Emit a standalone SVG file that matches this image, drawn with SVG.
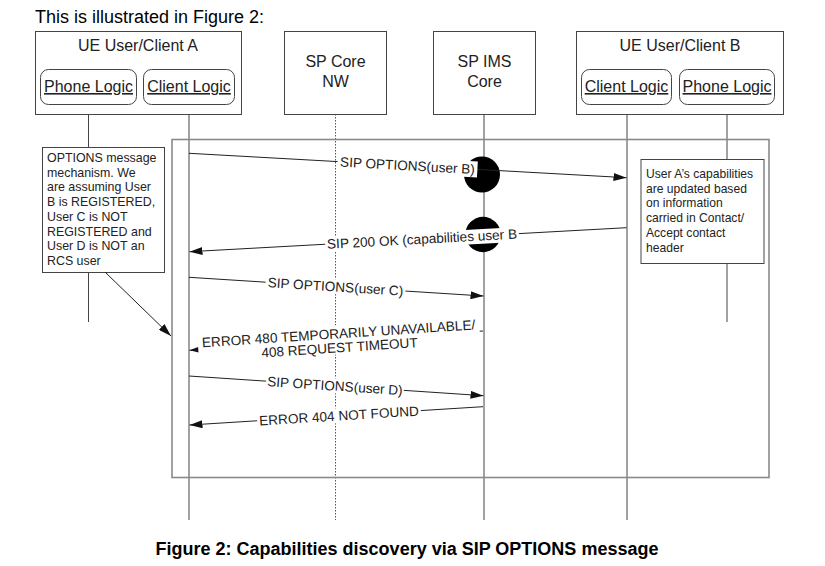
<svg xmlns="http://www.w3.org/2000/svg" width="825" height="566" viewBox="0 0 825 566">
<style>
  text { font-family: "Liberation Sans", Arial, sans-serif; fill: #222; }
  .box { fill: #fff; stroke: #444; stroke-width: 1; }
  .rbox { fill: #fff; stroke: #444; stroke-width: 1; }
  .hdr { font-size: 16px; text-anchor: middle; }
  .ul { font-size: 16px; text-anchor: middle; text-decoration: underline; }
  .life { stroke: #444; stroke-width: 1; fill: none; }
  .dot { stroke: #555; stroke-width: 1; stroke-dasharray: 1.5 1.5; fill: none; }
  .msg { stroke: #222; stroke-width: 1; fill: none; marker-end: url(#ah); }
  .lbl { font-size: 13.6px; text-anchor: middle; }
  .bg { fill: #fff; stroke: none; }
  .note { font-size: 12.4px; }
  .frame { fill: none; stroke: #8a8a8a; stroke-width: 1.6; }
</style>
<defs>
  <marker id="ah" markerUnits="userSpaceOnUse" markerWidth="13" markerHeight="8" refX="13" refY="4" orient="auto">
    <path d="M0,0 L13,4 L0,8 z" fill="#111"/>
  </marker>
</defs>
<rect width="825" height="566" fill="#fff"/>
<text x="35" y="23" style="font-size:18px;fill:#000">This is illustrated in Figure 2:</text>

<g id="lifelines">
  <path class="life" d="M88.5,104 V147 M88.5,272 V322"/>
  <path class="life" d="M189,104 V520"/>
  <path class="dot" d="M335.5,114 V520"/>
  <path class="life" d="M484,114 V520"/>
  <path class="life" d="M627,104 V520"/>
  <path class="life" d="M727,104 V159 M727,264 V322"/>
</g>

<g id="frame">
  <rect class="frame" x="172" y="139.5" width="597" height="338"/>
</g>

<g id="ueA">
  <rect class="box" x="35.5" y="31.5" width="206" height="83"/>
  <text class="hdr" x="138" y="51">UE User/Client A</text>
  <g id="phoneLogicA">
    <rect class="rbox" x="40.5" y="69.5" width="96" height="35" rx="8"/>
    <text class="ul" x="88.5" y="92">Phone Logic</text>
  </g>
  <g id="clientLogicA">
    <rect class="rbox" x="143.5" y="69.5" width="91" height="35" rx="8"/>
    <text class="ul" x="189" y="92">Client Logic</text>
  </g>
</g>

<g id="spCore">
  <rect class="box" x="284.5" y="31.5" width="102" height="83"/>
  <text class="hdr" x="335.5" y="67">SP Core</text>
  <text class="hdr" x="335.5" y="87">NW</text>
</g>

<g id="spIms">
  <rect class="box" x="433.5" y="31.5" width="102" height="83"/>
  <text class="hdr" x="484.5" y="67">SP IMS</text>
  <text class="hdr" x="484.5" y="87">Core</text>
</g>

<g id="ueB">
  <rect class="box" x="576.5" y="31.5" width="207" height="83"/>
  <text class="hdr" x="680" y="51">UE User/Client B</text>
  <g id="clientLogicB">
    <rect class="rbox" x="581.5" y="69.5" width="90" height="35" rx="8"/>
    <text class="ul" x="626.5" y="92">Client Logic</text>
  </g>
  <g id="phoneLogicB">
    <rect class="rbox" x="679.5" y="69.5" width="95" height="35" rx="8"/>
    <text class="ul" x="727" y="92">Phone Logic</text>
  </g>
</g>

<g id="noteA">
  <rect class="box" x="42.5" y="147.5" width="122" height="125"/>
  <text class="note" x="47" y="161.7">OPTIONS message</text>
  <text class="note" x="47" y="176.5">mechanism. We</text>
  <text class="note" x="47" y="191.2">are assuming User</text>
  <text class="note" x="47" y="206">B is REGISTERED,</text>
  <text class="note" x="47" y="220.8">User C is NOT</text>
  <text class="note" x="47" y="235.5">REGISTERED and</text>
  <text class="note" x="47" y="250.3">User D is NOT an</text>
  <text class="note" x="47" y="265">RCS user</text>
</g>

<g id="noteB">
  <rect class="box" x="641" y="159.5" width="123" height="104"/>
  <text class="note" x="646" y="177.7" style="font-size:12.1px">User A’s capabilities</text>
  <text class="note" x="646" y="192.5" style="font-size:12.1px">are updated based</text>
  <text class="note" x="646" y="207.3" style="font-size:12.1px">on information</text>
  <text class="note" x="646" y="222.1" style="font-size:12.1px">carried in Contact/</text>
  <text class="note" x="646" y="236.9" style="font-size:12.1px">Accept contact</text>
  <text class="note" x="646" y="251.7" style="font-size:12.1px">header</text>
</g>

<g id="drops">
  <circle cx="482" cy="174.5" r="18" fill="#000"/>
  <circle cx="483" cy="234.5" r="17.7" fill="#000"/>
</g>

<g id="connectors">
  <line class="msg" x1="105" y1="272" x2="171" y2="336"/>

  <line class="msg" x1="189" y1="153.3" x2="626.5" y2="177.7"/>
  <g transform="translate(407.5,165.5) rotate(3.2)">
    <rect class="bg" x="-70" y="-8" width="140" height="16"/>
    <text class="lbl" x="0" y="4.8">SIP OPTIONS(user B)</text>
  </g>

  <line class="msg" x1="626.5" y1="227.7" x2="189.5" y2="251.7"/>
  <g transform="translate(422,238.9) rotate(-3.1)">
    <rect class="bg" x="-97" y="-6.5" width="194" height="14.5"/>
    <text class="lbl" x="0" y="4.8">SIP 200 OK (capabilities user B</text>
  </g>

  <line class="msg" x1="189" y1="277.3" x2="483.5" y2="296"/>
  <g transform="translate(335.5,286.6) rotate(3.64)">
    <rect class="bg" x="-70" y="-7.5" width="140" height="15"/>
    <text class="lbl" x="0" y="4.8">SIP OPTIONS(user C)</text>
  </g>

  <line class="msg" x1="483" y1="331" x2="189.5" y2="350.3"/>
  <g transform="translate(339,340.3) rotate(-3.76)">
    <rect class="bg" x="-141" y="-15" width="282" height="29"/>
    <text class="lbl" x="0" y="-2">ERROR 480 TEMPORARILY UNAVAILABLE/</text>
    <text class="lbl" x="0" y="12">408 REQUEST TIMEOUT</text>
  </g>

  <line class="msg" x1="189" y1="376" x2="483.5" y2="395.7"/>
  <g transform="translate(335,385.8) rotate(3.83)">
    <rect class="bg" x="-69" y="-7.5" width="138" height="15"/>
    <text class="lbl" x="0" y="4.8">SIP OPTIONS(user D)</text>
  </g>

  <line class="msg" x1="483" y1="406.7" x2="189.5" y2="425"/>
  <g transform="translate(339,415.7) rotate(-3.56)">
    <rect class="bg" x="-82" y="-7.5" width="164" height="15"/>
    <text class="lbl" x="0" y="4.8">ERROR 404 NOT FOUND</text>
  </g>
</g>

<text x="407" y="555" style="font-size:18px;font-weight:bold;fill:#000;text-anchor:middle">Figure 2: Capabilities discovery via SIP OPTIONS message</text>
</svg>
